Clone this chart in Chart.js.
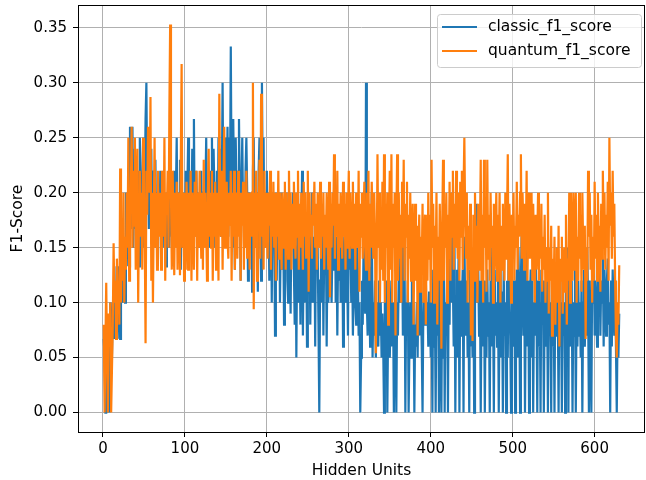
<!DOCTYPE html>
<html>
<head>
<meta charset="utf-8">
<script src="https://cdn.jsdelivr.net/npm/chart.js@4"></script>
<style>
html, body { margin: 0; padding: 0; background: #fff; }
#wrap { width: 646px; height: 480px; }
</style>
</head>
<body>
<div id="wrap"><canvas id="f1Chart" width="646" height="480"></canvas></div>
<script>
// values, one per hidden-unit count (1..630)
const classicF1 = [
  0.067,0.05,0,0,0.067,0,0.05,0,0.1,0.067,
  0.05,0.1,0.067,0.133,0.067,0.1,0.1,0.067,0.133,0.1,
  0.067,0.1,0.133,0.1,0.15,0.133,0.1,0.2,0.133,0.167,
  0.2,0.133,0.26,0.167,0.2,0.26,0.15,0.2,0.24,0.167,
  0.2,0.15,0.22,0.133,0.25,0.2,0.167,0.2,0.25,0.15,
  0.2,0.267,0.3,0.2,0.25,0.167,0.25,0.2,0.24,0.15,
  0.22,0.2,0.167,0.23,0.15,0.2,0.133,0.2,0.167,0.22,
  0.18,0.2,0.15,0.22,0.167,0.2,0.133,0.2,0.18,0.167,
  0.15,0.2,0.22,0.16,0.2,0.133,0.22,0.18,0.2,0.25,
  0.15,0.2,0.167,0.23,0.13,0.2,0.167,0.15,0.2,0.133,
  0.22,0.16,0.2,0.25,0.167,0.2,0.15,0.18,0.24,0.14,
  0.267,0.16,0.2,0.22,0.167,0.2,0.15,0.2,0.18,0.22,
  0.15,0.2,0.2,0.167,0.2,0.25,0.16,0.2,0.2,0.15,
  0.22,0.18,0.25,0.167,0.24,0.2,0.15,0.2,0.22,0.16,
  0.25,0.2,0.24,0.16,0.2,0.3,0.17,0.2,0.25,0.18,
  0.2,0.26,0.16,0.25,0.2,0.333,0.2,0.15,0.267,0.2,
  0.13,0.25,0.2,0.22,0.18,0.267,0.2,0.12,0.2,0.25,
  0.18,0.2,0.15,0.22,0.25,0.2,0.12,0.2,0.18,0.15,
  0.2,0.11,0.22,0.25,0.167,0.2,0.15,0.2,0.11,0.22,
  0.25,0.18,0.12,0.3,0.2,0.25,0.15,0.2,0.17,0.22,
  0.15,0.2,0.12,0.18,0.2,0.1,0.2,0.15,0.17,0.07,
  0.2,0.12,0.18,0.15,0.2,0.1,0.16,0.2,0.13,0.17,
  0.08,0.18,0.15,0.2,0.12,0.1,0.17,0.15,0.09,0.18,
  0.15,0.2,0.13,0.08,0.18,0.05,0.15,0.2,0.1,0.15,
  0.08,0.16,0.22,0.07,0.15,0.2,0.1,0.16,0.06,0.18,
  0.13,0.18,0.08,0.15,0.2,0.1,0.13,0.16,0.06,0.18,
  0.13,0.15,0.08,0,0.12,0.16,0.1,0.18,0.07,0.15,
  0.13,0.17,0.06,0.15,0.1,0.12,0.18,0.13,0.1,0.15,
  0.2,0.13,0.22,0.1,0.16,0.07,0.15,0.12,0.18,0.1,
  0.15,0.17,0.06,0.13,0.16,0.1,0.15,0.13,0.07,0.18,
  0.13,0.16,0.1,0.15,0.07,0.12,0.18,0.1,0.08,0.15,
  0.13,0.07,0.1,0,0.05,0.12,0.08,0.15,0.12,0.09,
  0.3,0.1,0.07,0.15,0.12,0.06,0.1,0.2,0.05,0.1,
  0.07,0.12,0.05,0.09,0.1,0.06,0.12,0.07,0.1,0.05,
  0.09,0.06,0,0.1,0.07,0.12,0,0.08,0.1,0.05,
  0.09,0.12,0.06,0.1,0,0.08,0.12,0,0.1,0.07,
  0.13,0.1,0.15,0.12,0.16,0.07,0.1,0.15,0,0.1,
  0.07,0.12,0,0.06,0.1,0.05,0.13,0.07,0.1,0,
  0.08,0.06,0.1,0.05,0.12,0.07,0.15,0.1,0.06,0,
  0.1,0.13,0.08,0.12,0.09,0.1,0.06,0.11,0.1,0.05,
  0.1,0,0.13,0.06,0.1,0,0.12,0.07,0.15,0,
  0.1,0.06,0,0.12,0.05,0.15,0,0.1,0.07,0.12,
  0,0.13,0.08,0.17,0.1,0.2,0.12,0.06,0.15,0,
  0.1,0.13,0.05,0.15,0,0.12,0.07,0.1,0.13,0,
  0.16,0.1,0.07,0.12,0.05,0.1,0,0.13,0.06,0.1,
  0.05,0.12,0,0.1,0.15,0.19,0.1,0.13,0.07,0.12,
  0,0.1,0.15,0.06,0.12,0,0.1,0.05,0.13,0.07,
  0.1,0,0.12,0.06,0.15,0.1,0,0.13,0.07,0.1,
  0.06,0.12,0,0.1,0.15,0.05,0.11,0,0.13,0.07,
  0.1,0,0.12,0.05,0.15,0.1,0.07,0,0.13,0.1,
  0.06,0.12,0,0.1,0.13,0.05,0.15,0.1,0,0.12,
  0.165,0.1,0.07,0.13,0,0.1,0.15,0.06,0.12,0,
  0.1,0.13,0.05,0.12,0,0.1,0.07,0.15,0.1,0,
  0.12,0.06,0.1,0,0.13,0.08,0.12,0,0.1,0.06,
  0.15,0.1,0,0.12,0.07,0.1,0,0.13,0.06,0.1,
  0,0.12,0.07,0.15,0.1,0,0.12,0.06,0.1,0,
  0.13,0.07,0.1,0,0.12,0.06,0.15,0,0.17,0.1,
  0.06,0.12,0,0.1,0.07,0.13,0,0.1,0.06,0.12,
  0.07,0.1,0.05,0.12,0,0.1,0.13,0.06,0.1,0.07,
  0.15,0.1,0,0.12,0.06,0,0.13,0.1,0.15,0.07,
  0.12,0.1,0.06,0.14,0.1,0.13,0.07,0.12,0.1,0.14,
  0.06,0.13,0.1,0.07,0.12,0.14,0.08,0.1,0,0.12,
  0.06,0.13,0.1,0.07,0.12,0.06,0,0.08,0.05,0.09
];

const quantumF1 = [
  0.08,0,0.06,0.118,0.05,0,0.09,0.06,0.1,0,
  0,0.08,0.154,0.1,0.12,0.067,0.14,0.1,0.12,0.08,
  0.222,0.1,0.15,0.12,0.2,0.1,0.16,0.13,0.2,0.15,
  0.25,0.12,0.18,0.2,0.26,0.15,0.22,0.17,0.25,0.13,
  0.2,0.24,0.1,0.18,0.22,0.16,0.2,0.13,0.25,0.2,
  0.16,0.063,0.22,0.18,0.26,0.24,0.2,0.287,0.12,0.2,
  0.1,0.18,0.25,0.15,0.2,0.13,0.22,0.18,0.16,0.2,
  0.13,0.22,0.2,0.16,0.25,0.12,0.2,0.18,0.22,0.15,
  0.27,0.353,0.2,0.13,0.22,0.18,0.125,0.2,0.15,0.21,
  0.13,0.2,0.18,0.125,0.23,0.317,0.15,0.2,0.12,0.2,
  0.13,0.21,0.17,0.13,0.2,0.15,0.22,0.12,0.2,0.18,
  0.13,0.21,0.16,0.22,0.12,0.2,0.15,0.22,0.18,0.14,
  0.2,0.13,0.23,0.15,0.2,0.17,0.12,0.2,0.24,0.16,
  0.2,0.15,0.22,0.12,0.2,0.16,0.21,0.13,0.2,0.18,
  0.12,0.29,0.2,0.16,0.22,0.13,0.2,0.26,0.15,0.2,
  0.21,0.16,0.14,0.2,0.17,0.22,0.12,0.2,0.16,0.22,
  0.13,0.2,0.18,0.14,0.22,0.16,0.2,0.12,0.2,0.17,
  0.21,0.13,0.2,0.15,0.22,0.14,0.2,0.18,0.13,0.2,
  0.16,0.2,0.3,0.094,0.2,0.15,0.22,0.12,0.2,0.17,
  0.23,0.14,0.29,0.16,0.2,0.13,0.22,0.15,0.2,0.17,
  0.14,0.2,0.17,0.22,0.13,0.2,0.16,0.21,0.15,0.2,
  0.12,0.19,0.16,0.22,0.14,0.2,0.17,0.13,0.2,0.18,
  0.15,0.21,0.13,0.2,0.17,0.14,0.22,0.16,0.2,0.13,
  0.19,0.15,0.21,0.17,0.14,0.2,0.16,0.22,0.13,0.19,
  0.15,0.2,0.17,0.13,0.21,0.16,0.2,0.14,0.18,0.22,
  0.11,0.2,0.16,0.18,0.14,0.2,0.17,0.21,0.15,0.19,
  0.13,0.2,0.17,0.15,0.21,0.14,0.19,0.16,0.2,0.13,
  0.18,0.15,0.2,0.16,0.13,0.21,0.105,0.19,0.15,0.2,
  0.17,0.235,0.14,0.2,0.16,0.22,0.13,0.19,0.15,0.2,
  0.17,0.14,0.21,0.16,0.19,0.13,0.2,0.15,0.18,0.22,
  0.14,0.2,0.17,0.15,0.21,0.16,0.19,0.13,0.2,0.17,
  0.15,0.22,0.11,0.19,0.16,0.2,0.14,0.18,0.21,0.15,
  0.13,0.2,0.16,0.22,0.12,0.19,0.15,0.21,0.17,0.14,
  0.2,0.16,0.054,0.13,0.235,0.15,0.2,0.1,0.18,0.13,
  0.21,0.12,0.235,0.1,0.19,0.15,0.2,0.08,0.17,0.22,
  0.13,0.235,0.1,0.19,0.15,0.2,0.07,0.17,0.235,0.12,
  0.2,0.14,0.18,0.1,0.21,0.15,0.23,0.12,0.19,0.16,
  0.21,0.1,0.18,0.14,0.2,0.12,0.16,0.19,0.08,0.15,
  0.19,0.12,0.17,0.07,0.15,0.18,0.11,0.16,0.13,0.19,
  0.1,0.15,0.18,0.08,0.16,0.12,0.2,0.14,0.18,0.1,
  0.23,0.15,0.19,0.1,0.17,0.13,0.2,0.08,0.16,0.12,
  0.19,0.14,0.058,0.17,0.23,0.12,0.19,0.15,0.2,0.1,
  0.18,0.14,0.21,0.12,0.2,0.16,0.22,0.13,0.19,0.15,
  0.22,0.17,0.14,0.2,0.12,0.21,0.16,0.22,0.13,0.2,
  0.25,0.18,0.14,0.2,0.1,0.17,0.13,0.19,0.07,0.15,
  0.065,0.18,0.12,0.2,0.14,0.17,0.1,0.19,0.13,0.16,
  0.23,0.12,0.18,0.1,0.23,0.15,0.19,0.11,0.23,0.14,
  0.18,0.12,0.2,0.15,0.17,0.1,0.19,0.13,0.16,0.2,
  0.12,0.18,0.14,0.2,0.1,0.17,0.13,0.19,0.15,0.12,
  0.2,0.14,0.17,0.235,0.12,0.19,0.15,0.1,0.18,0.14,
  0.2,0.12,0.17,0.15,0.21,0.13,0.18,0.16,0.2,0.235,
  0.14,0.2,0.17,0.13,0.19,0.15,0.22,0.12,0.18,0.2,
  0.14,0.17,0.2,0.12,0.19,0.15,0.1,0.18,0.13,0.16,
  0.2,0.12,0.17,0.14,0.19,0.11,0.16,0.13,0.18,0.1,
  0.15,0.12,0.2,0.09,0.15,0.12,0.17,0.07,0.14,0.11,
  0.16,0.08,0.13,0.15,0.1,0.17,0.06,0.14,0.12,0.16,
  0.09,0.13,0.15,0.11,0.18,0.08,0.14,0.12,0.2,0.1,
  0.2,0.15,0.12,0.2,0.13,0.17,0.2,0.1,0.16,0.12,
  0.2,0.14,0.18,0.11,0.2,0.15,0.13,0.17,0.067,0.15,
  0.12,0.22,0.16,0.2,0.13,0.18,0.1,0.16,0.12,0.21,
  0.14,0.18,0.12,0.2,0.15,0.17,0.11,0.19,0.14,0.22,
  0.16,0.2,0.13,0.18,0.15,0.21,0.12,0.25,0.17,0.2,
  0.14,0.22,0.16,0.19,0.12,0.07,0.05,0.1,0.08,0.134
];

// hidden unit counts 1..630
const hiddenUnits = classicF1.map((_, i) => i + 1);

const xTickValues = [0, 100, 200, 300, 400, 500, 600];
const yTickValues = [0, 0.05, 0.1, 0.15, 0.2, 0.25, 0.3, 0.35];

const seriesNames = ['classic_f1_score', 'quantum_f1_score'];
const seriesColors = ['#1f77b4', '#ff7f0e'];

const FONT = "'DejaVu Sans', sans-serif";

// black frame round the plot + matplotlib-style legend box
const frameLegend = {
    id: 'frameLegend',
    afterDatasetsDraw(chart) {
        const ctx = chart.ctx;
        const a = chart.chartArea;
        ctx.save();
        ctx.strokeStyle = '#000';
        ctx.lineWidth = 1;
        ctx.strokeRect(Math.round(a.left) + 0.5, Math.round(a.top) + 0.5,
            Math.round(a.right - a.left) - 1, Math.round(a.bottom - a.top));

        const bw = 204, bh = 53;
        const bx = a.right - bw - 4, by = a.top + 9;
        ctx.beginPath();
        if (ctx.roundRect) ctx.roundRect(bx + 0.5, by + 0.5, bw, bh, 3);
        else ctx.rect(bx + 0.5, by + 0.5, bw, bh);
        ctx.fillStyle = 'rgba(255,255,255,0.8)';
        ctx.fill();
        ctx.strokeStyle = '#cccccc';
        ctx.stroke();

        ctx.font = '15.5px ' + FONT;
        ctx.textBaseline = 'middle';
        ctx.fillStyle = '#000';
        seriesNames.forEach(function(name, i) {
            const ly = by + 13 + i * 24;
            ctx.beginPath();
            ctx.moveTo(bx + 5, ly);
            ctx.lineTo(bx + 40, ly);
            ctx.strokeStyle = seriesColors[i];
            ctx.lineWidth = 2.2;
            ctx.stroke();
            ctx.fillText(name, bx + 51, ly);
        });
        ctx.restore();
    }
};

const ctx = document.getElementById('f1Chart').getContext('2d');
new Chart(ctx, {
    type: 'line',
    data: {
        datasets: [
            {
                label: seriesNames[0],
                data: hiddenUnits.map((x, i) => ({ x: x, y: classicF1[i] })),
                borderColor: seriesColors[0],
                borderWidth: 2.2,
                pointRadius: 0,
                tension: 0,
                order: 1
            },
            {
                label: seriesNames[1],
                data: hiddenUnits.map((x, i) => ({ x: x, y: quantumF1[i] })),
                borderColor: seriesColors[1],
                borderWidth: 2.2,
                pointRadius: 0,
                tension: 0,
                order: 0
            }
        ]
    },
    options: {
        responsive: false,
        animation: false,
        layout: { padding: { top: 5, right: 1, left: 0, bottom: 0 } },
        plugins: {
            legend: { display: false },
            tooltip: { enabled: false }
        },
        scales: {
            x: {
                type: 'linear',
                min: -30.45,
                max: 661.45,
                afterBuildTicks: function(scale) {
                    scale.ticks = xTickValues.map(v => ({ value: v }));
                },
                afterFit: function(scale) {
                    scale.height = 48;
                    scale.paddingLeft = 0;
                    scale.paddingRight = 0;
                },
                ticks: {
                    color: '#000',
                    font: { family: FONT, size: 15 },
                    padding: 3,
                    maxRotation: 0,
                    callback: v => String(v)
                },
                grid: { color: '#b0b0b0', lineWidth: 1, tickColor: '#000', tickLength: 5 },
                border: { display: false },
                title: {
                    display: true,
                    text: 'Hidden Units',
                    color: '#000',
                    font: { family: FONT, size: 15.5 },
                    padding: { top: 0, bottom: 0 }
                }
            },
            y: {
                min: -0.01765,
                max: 0.37065,
                afterBuildTicks: function(scale) {
                    scale.ticks = yTickValues.map(v => ({ value: v }));
                },
                afterFit: function(scale) {
                    scale.width = 78;
                    scale.paddingTop = 0;
                    scale.paddingBottom = 0;
                },
                ticks: {
                    color: '#000',
                    font: { family: FONT, size: 15 },
                    padding: 6,
                    callback: v => v.toFixed(2)
                },
                grid: { color: '#b0b0b0', lineWidth: 1, tickColor: '#000', tickLength: 5 },
                border: { display: false },
                title: {
                    display: true,
                    text: 'F1-Score',
                    color: '#000',
                    font: { family: FONT, size: 15.5 },
                    padding: { top: 9, bottom: 0 }
                }
            }
        }
    },
    plugins: [frameLegend]
});
</script>
</body>
</html>
